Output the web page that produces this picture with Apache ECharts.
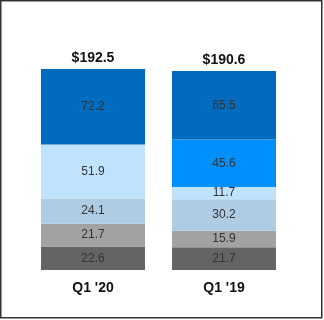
<!DOCTYPE html>
<html><head><meta charset="utf-8">
<script src="https://cdn.jsdelivr.net/npm/echarts@6/dist/echarts.min.js"></script>
<style>html,body{margin:0;padding:0;background:#fff}#c{width:324px;height:320px}</style>
</head><body><div id="c"></div>
<script>
var categories = ["Q1 '20", "Q1 '19"];
var totals = ["$192.5", "$190.6"];
var seg1 = [22.6, 21.7];
var seg2 = [21.7, 15.9];
var seg3 = [24.1, 30.2];
var seg4 = [51.9, 11.7];
var seg5 = [null, 45.6];
var seg6 = [72.2, 65.5];
var colors = ['#646464', '#a2a2a2', '#aecde5', '#bfe3fc', '#0090fb', '#006bbf'];
var segs = [seg1, seg2, seg3, seg4, seg5, seg6];
var font = 'Liberation Sans';
var series = segs.map(function (d, i) {
  var s = {
    type: 'bar', stack: 'a', data: d, barWidth: 104,
    itemStyle: { color: colors[i] },
    label: { show: true, position: 'inside', color: '#333', fontSize: 12, fontFamily: font,
      formatter: function (p) { return p.value == null ? '' : p.value.toFixed(1); } },
    emphasis: { disabled: true }
  };
  return s;
});
// totals on top of the top series
series.push({
  type: 'bar', stack: 'a', data: [0, 0], barWidth: 104, silent: true,
  itemStyle: { color: 'transparent' },
  label: { show: true, position: 'top', distance: 4, color: '#111', fontSize: 14, fontWeight: 'bold', fontFamily: font,
    formatter: function (p) { return totals[p.dataIndex]; } }
});
var chart = echarts.init(document.getElementById('c'), null, { renderer: 'canvas' });
chart.setOption({
  animation: false,
  grid: { left: 27.5, right: 34.5, top: 61.2, bottom: 50 },
  xAxis: { type: 'category', data: categories, axisLine: { show: false }, axisTick: { show: false },
    axisLabel: { color: '#111', fontSize: 14, fontWeight: 'bold', fontFamily: font, margin: 11 } },
  yAxis: { type: 'value', min: 0, max: 200, show: false, splitLine: { show: false } },
  series: series,
  graphic: [{ type: 'rect', shape: { x: 0.75, y: 0.75, width: 321, height: 317 },
    style: { fill: 'none', stroke: '#333', lineWidth: 1.5 }, silent: true }]
});
</script></body></html>
